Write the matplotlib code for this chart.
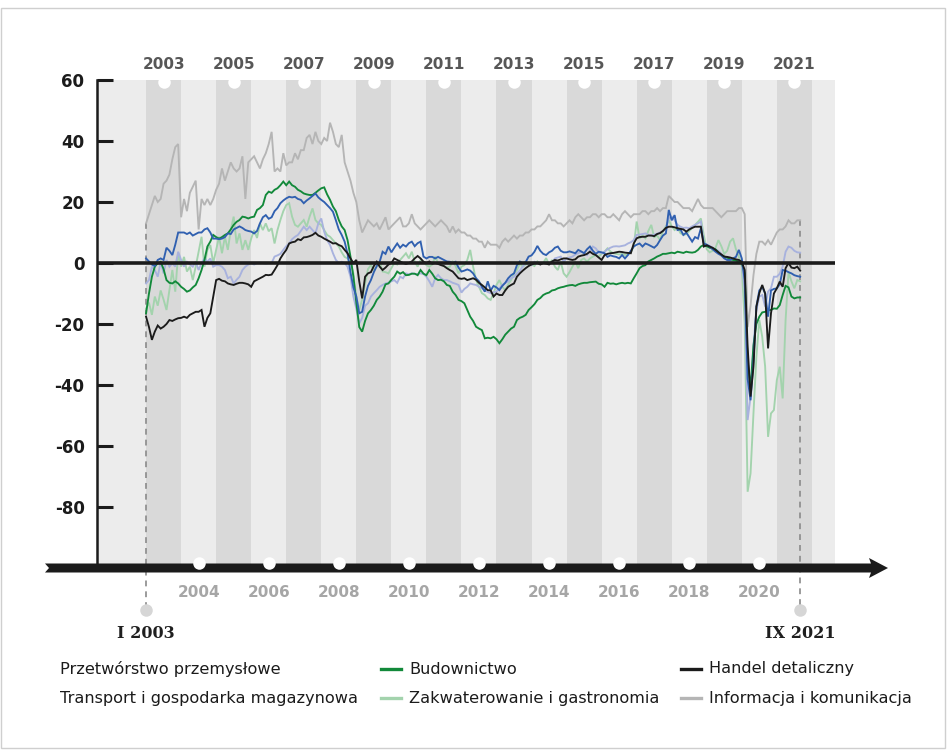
import numpy as np
import matplotlib
matplotlib.use("Agg")
import matplotlib.pyplot as plt
from matplotlib.patches import Polygon, Rectangle
from matplotlib.lines import Line2D

# monthly values, I 2003 - IX 2021 (one row per year)
przetworstwo = [
    1.5, 0.5, -0.5, -1, 1, 1.5, 1, 5, 4, 2.6, 6, 10,
    10, 10, 9.5, 10, 9, 9.5, 10, 10, 11, 11.4, 10, 8,
    8, 7.8, 8, 8.5, 9.7, 9.5, 11, 11.5, 12, 11.5, 10.8, 10.5,
    10.3, 9.7, 10.5, 13, 15, 15.7, 14.5, 15, 17, 18, 19.6, 20.5,
    21.2, 21.7, 21.5, 21.7, 21, 20.7, 19.6, 20.5, 21.2, 22, 22.8, 21.5,
    20.7, 20, 19, 18, 16.8, 14, 11, 9.2, 7, 3, -3, -8,
    -11, -16.5, -16, -11, -7.5, -5.6, -3, -1, 0.4, 3.7, 3, 5.4,
    3.5, 5, 6.4, 5, 6, 5.4, 6.5, 7, 5.5, 6.5, 7, 2.1,
    1.5, 2, 2, 1.5, 2, 1.5, 1, 0.5, 0.4, 0, 0.4, -1.5,
    -2.8, -2.5, -2.1, -2.5, -3.4, -5, -6, -7.8, -9.4, -6, -9, -7.5,
    -8, -8.9, -7.5, -6.5, -5, -4, -3.4, -0.7, 0.5, 0, 0.3, 2.1,
    2.5, 3.7, 5.6, 4, 3, 2.6, 3.5, 4, 5, 5.4, 4, 3.5,
    3.5, 3.8, 3.5, 3.2, 4.3, 3.8, 3.2, 4.5, 5.4, 4, 3, 3.7,
    3.5, 3.2, 2, 2.5, 2.2, 2, 1.5, 2.6, 1.5, 2.6, 4, 5.4,
    6, 6.4, 5.4, 6.4, 6, 5.5, 5, 5.9, 7.5, 9, 9.7, 17.4,
    14, 15.7, 10.8, 11, 9.2, 10, 8.5, 7, 8.5, 8, 11.4, 6.4,
    6, 5.4, 4.5, 3.7, 3, 2.5, 1.5, 1, 1, 1.5, 2, 4.3,
    1.5, -5.6, -38, -45, -32, -14.3, -9, -7.8, -10, -17.6, -9, -8.5,
    -8.3, -7, -2.3, -2.5, -3, -3.4, -4, -4.3, -4.5,
]

transport = [
    -6.7, -5.6, -1.2, -2.3, -4.5, 0.4, -3.4, 1, -1.2, -0.1, -1.2, 3.7,
    1, -1.2, 0.4, -0.5, -1.2, 0.4, -2.3, 0, 1.5, 0.4, 1.5, -1.2,
    -0.7, -0.7, -1.2, -2.3, -5, -4.5, -6.7, -5.5, -4.5, -2.3, -1.2, -0.5,
    0, -0.5, 0, 0.1, 0, -0.2, 0, 0, 2.1, 2.5, 3, 4.3,
    5.5, 6.4, 7.8, 8.6, 9.2, 10.5, 11.9, 10.8, 11.9, 10.8, 9.7, 13,
    14.6, 10.3, 7.5, 5.9, 3.2, 1, 0, 0.4, 0, -1.2, -4.5, -11,
    -15, -19.8, -18, -14, -13.2, -11, -9.9, -8.9, -7.8, -7.2, -6.7, -6.5,
    -6, -5.6, -6.5, -4.5, -5, -3.4, -3.7, -3.4, -3.6, -3.6, -3.4, -3.6,
    -4.5, -6, -7.8, -5, -3.9, -5, -5.6, -5.6, -6, -6.5, -6.8, -7.2,
    -9.7, -8.5, -7.8, -6.7, -7, -7.2, -7.8, -8.3, -8.9, -9.5, -9.9, -9.6,
    -9.4, -8.3, -7.2, -6.5, -6.1, -5, -4.5, -3.4, -2.5, -1.2, 0, -0.3,
    -0.7, 0.4, 0, -0.2, 0, 0.2, 0, -0.1, 1.5, 1.8, 2.1, 0.4,
    1.5, 1.8, 2.1, 2.8, 3.2, 3.7, 3.3, 2.6, 4, 5.4, 4.8, 3.5,
    3.2, 3.7, 4.5, 5, 5.4, 5.5, 5.4, 5.6, 5.8, 6.4, 6.8, 7.5,
    9.2, 9.3, 9.5, 9.7, 9.2, 9, 9.3, 9.6, 10, 10.5, 11.4, 14.6,
    15.2, 14, 12.5, 11.9, 11.5, 11.6, 11.4, 12, 12.5, 13, 13.6, 6.4,
    6, 5.6, 5, 4.3, 4, 3, 2, 1, 0.5, 0.5, 1, 0.8,
    -0.1, -8.9, -51.5, -43.8, -27.4, -15.4, -11, -10.5, -14.3, -9.4, -8.3, -4.5,
    -4.5, -3.5, -1.2, 3.7, 5.4, 5, 4, 3.5, 3.4,
]

budownictwo = [
    -16.5, -10, -4.5, -1.2, 0, 0.4, -2, -5.6, -6.5, -6.7, -6, -6.7,
    -7.8, -8.5, -9.4, -9, -8, -7.2, -5, -2.3, 1, 5.4, 7, 9.2,
    8.5, 8, 8.5, 9.2, 9.7, 11, 12.5, 13.5, 14.1, 15.2, 15, 14.6,
    15, 15.2, 17.4, 18, 19, 22.3, 23.4, 23, 24, 24.5, 25.5, 26.7,
    25.5, 26.7, 25.5, 25, 24, 23.5, 22.8, 22.5, 22.3, 22.3, 23, 23.8,
    24.5, 24.8, 22.5, 20.7, 18.5, 17, 14.1, 12, 10.8, 7.5, 2.1, -4.5,
    -13, -21, -22.5, -19, -16.5, -15.4, -14, -12.1, -11, -9.4, -7, -6.7,
    -5.5, -4.5, -2.8, -3.5, -3, -4, -3.9, -3.5, -3.5, -4, -2.3, -3.5,
    -4, -2.3, -3.5, -5, -5.6, -5.5, -6, -7.2, -7.5, -9.4, -10.5, -12.1,
    -12.5, -13.2, -15.4, -17.6, -19, -20.9, -21.5, -22, -24.7, -24.5, -24.7, -24.2,
    -25, -26.3, -25, -23.5, -22.5, -21.5, -20.9, -18.7, -18, -17.6, -17, -15.4,
    -14.5, -13.5, -12.1, -11.5, -10.5, -10, -9.7, -9, -8.8, -8.3, -8, -7.8,
    -7.5, -7.3, -7.2, -7.5, -7, -6.7, -6.5, -6.5, -6.3, -6.2, -6.1, -6.8,
    -7, -7.8, -6.5, -6.8, -6.7, -7, -6.7, -6.5, -6.7, -6.5, -6.7, -5,
    -3.4, -1.7, -1, -0.7, 0.5, 1, 1.5, 2.1, 2.5, 3, 3, 3.2,
    3.4, 3.2, 3.7, 3.5, 3.3, 3.7, 3.5, 3.4, 3.6, 4.3, 5.4, 5.9,
    5.5, 5, 4.8, 4.5, 3.5, 2.5, 2.1, 1.8, 1.2, 1, 0.8, 0.4,
    0, -3.4, -32, -41, -27, -20, -17.6, -16.2, -16, -15.5, -15.4, -14.9,
    -15, -13.8, -10.5, -7.5, -8, -11, -11.6, -11.3, -11.3,
]

zakwaterowanie = [
    -15, -13, -17, -11, -14, -9, -12, -15.4, -8.9, -2.3, -9.4, 3.2,
    -1.2, 2, -2.8, -1.2, -5.6, -1.2, 3.7, 8.6, -1.2, 4.3, 5.9, 0,
    4.3, 8.6, 3.2, 8.6, 4.3, 10.8, 15.2, 6.4, 9.7, 4.3, 7.5, 4.3,
    8, 10.8, 8.2, 13, 10.8, 13, 10.4, 11.4, 6.4, 10.8, 14.1, 17,
    19, 19.6, 15.2, 12.5, 11.9, 13, 14.1, 11.9, 15.2, 17.9, 14.1, 13,
    12.5, 10.8, 9.2, 8.6, 7.5, 6.4, 5.4, 3.5, 2, 1.5, 0, -3.4,
    -11, -15.4, -12, -6.7, -2, -0.7, -2.3, -1.2, 0.4, -2.8, -3, -3.4,
    -1.7, 0, -0.5, 1, 2.1, 3.2, 1.5, 3.7, 0.4, -1.2, 1, 0.5,
    -0.7, -1.2, -0.5, 2.1, 0, -0.5, -1, -1.5, -1.2, 0.4, -1, -3.4,
    -1.2, -0.7, 1, 4.3, -1.2, -5.6, -7.8, -9.9, -10.5, -11.6, -12.1, -9.9,
    -7.2, -5.6, -7.8, -8.9, -7, -5.6, -3.4, -2.3, -0.1, -1.2, -0.5, 0,
    -0.5, -1, 0.5, -0.3, 0, 1.6, -0.5, 1, -1.2, -2.3, 0.4, -3.4,
    -4.5, -3, -1.2, 0.4, -1.7, 1, 1.5, 0.4, 1.5, 2.1, 2.6, 2.1,
    3, 3.7, 4.8, 3.8, 3.2, 3, 2.8, 3, 2.6, 2.9, 3.5, 5.4,
    13.6, 8, 9, 8.1, 10.5, 12.5, 8.5, 9, 7.5, 10.5, 12, 14.1,
    12, 10.8, 11.5, 9.8, 9.2, 9.5, 10.5, 11.5, 12.5, 13.5, 14.6, 9,
    4.5, 3.5, 4, 5, 7.5, 5.5, 3, 4, 7, 8.1, 4.5, 2,
    -1.2, -20, -75, -69, -49.3, -30.7, -18.7, -24.2, -34, -57, -49.3, -48.2,
    -38.4, -34, -44.4, -18.7, -3, -6, -8.3, -5.6, -6,
]

handel = [
    -17.6, -21, -25.2, -22.5, -20.5, -21.5, -20.9, -20, -18.7, -19, -18.5, -18.1,
    -18, -17.6, -18, -17, -16.5, -16, -16, -15.4, -20.9, -18, -16.5, -11,
    -5.6, -5.2, -5.8, -6, -6.7, -7, -7.2, -6.8, -6.5, -6.5, -6.7, -7,
    -7.8, -6, -5.5, -5, -4.5, -3.9, -4, -3.8, -2.3, -0.7, 1.5, 3,
    4.3, 6.4, 6.8, 7, 7.8, 7.5, 8.4, 8.5, 8.8, 9.2, 9.9, 9,
    8.6, 8, 7.5, 7, 6.4, 6.5, 5.9, 5.5, 4.3, 3.2, 1.5, 0,
    1, -6, -11.6, -4.5, -3.4, -3, -1, 0.4, -1.2, -2.3, -1.5, -0.5,
    0, 1.5, 1, 0.5, 0, -0.3, 0, 0.5, 1.5, 2.3, 1.5, 0.4,
    0, 0.5, -0.2, 0, -0.3, -0.7, -1, -1.7, -2.3, -2.8, -3.9, -5,
    -5.2, -5, -5.6, -5.3, -5, -5.5, -6.5, -7.2, -8, -8.9, -9, -11,
    -10, -10.5, -10.5, -9, -7.8, -7.2, -6.7, -4.5, -3.4, -2.5, -1.7, -1,
    -0.5, -0.1, 0, -0.5, 0, -0.2, -0.5, 0.5, 1, 0.8, 1.2, 1.5,
    1.5, 1.2, 1, 1.2, 2.1, 2.4, 2.6, 3, 3.7, 3, 2.6, 1.8,
    1, 2.6, 3, 3.2, 3.3, 3.5, 3.7, 3.6, 3.4, 3.3, 3.2, 6.4,
    8.1, 8.5, 8.6, 8.6, 9, 9, 8.8, 9.5, 9.8, 10.5, 11.5, 11.9,
    11.9, 11.7, 11.4, 11.2, 11, 10.3, 11, 11.5, 11.9, 11.9, 11.9, 5.4,
    5.8, 5.4, 5, 4.3, 3.5, 2.8, 2.1, 2, 1.8, 1.5, 1.2, 1,
    0.4, -2.3, -27.4, -43.8, -34, -14.3, -9.9, -7.2, -10, -28, -16.5, -10,
    -8.3, -6.1, -7.8, -1.7, 0, -1.5, -1.7, -1.2, -2.5,
]

informacja = [
    13, 16, 19, 22, 20, 21, 26, 27, 29, 34, 38, 39,
    15, 21, 17, 23, 25, 27, 11, 21, 19, 21, 19, 21,
    24, 26, 31, 27, 30, 33, 31, 30, 31, 35, 21, 33,
    34, 35, 33, 31, 34, 36, 39, 43, 30, 31, 30, 36,
    32, 33, 33, 36, 34, 37, 37, 41, 42, 39, 43, 40,
    39, 41, 40, 46, 43, 39, 38, 42, 33, 30, 27, 23,
    20, 14, 10, 12, 14, 13, 12, 13, 11, 13, 15, 11,
    12, 13, 14, 15, 12, 12, 13, 16, 13, 12, 11, 12,
    13, 14, 13, 12, 13, 14, 13, 12, 10, 12, 10, 11,
    10, 10, 9, 9, 8, 8, 7, 7, 5, 7, 6, 6,
    6, 5, 7, 8, 7, 8, 9, 8, 9, 9, 10, 10,
    11, 11, 12, 12, 13, 14, 16, 14, 14, 13, 13, 12,
    13, 14, 13, 15, 16, 15, 14, 15, 15, 16, 16, 15,
    16, 16, 15, 15, 16, 15, 14, 16, 17, 16, 15, 16,
    16, 16, 17, 17, 16, 17, 17, 18, 17, 18, 18, 22,
    21, 20, 20, 19, 18, 18, 18, 17, 19, 21, 19, 18,
    18, 18, 18, 17, 16, 15, 16, 17, 17, 17, 17, 18,
    18, 16, -21, -14, -4, 3, 7, 7, 6, 7.5, 6, 8,
    10, 11, 11, 12, 14, 13, 13, 14, 14,
]

labels = ["Przetwórstwo przemysłowe", "Transport i gospodarka magazynowa",
          "Budownictwo", "Zakwaterowanie i gastronomia",
          "Handel detaliczny", "Informacja i komunikacja"]
top_years = list(range(2003, 2022, 2))
bottom_years = list(range(2004, 2021, 2))
y_ticks = [60, 40, 20, 0, -20, -40, -60, -80]

colors = {
    "Przetwórstwo przemysłowe": "#3060b0",
    "Transport i gospodarka magazynowa": "#a8b2de",
    "Budownictwo": "#12893a",
    "Zakwaterowanie i gastronomia": "#a3d3ad",
    "Handel detaliczny": "#1b1b1b",
    "Informacja i komunikacja": "#b5b5b5",
}
values = dict(zip(labels, [przetworstwo, transport, budownictwo,
                           zakwaterowanie, handel, informacja]))

W, H = 948, 750
fig = plt.figure(figsize=(W / 100, H / 100), dpi=100)


def fx(px):
    return px / W


def fy(py):
    return 1 - py / H


ax = fig.add_axes([fx(97), fy(568), fx(835) - fx(97), fy(80) - fy(568)])
ax.set_facecolor("#ececec")
x0, x1 = 2001.60, 2022.66
ax.set_xlim(x0, x1)
ax.set_ylim(-100, 60)

# year bands
for yr in top_years:
    ax.axvspan(yr, yr + 1, color="#d9d9d9", lw=0, zorder=0)

n = len(informacja)
t = 2003 + np.arange(n) / 12.0

draw_order = ["Informacja i komunikacja", "Zakwaterowanie i gastronomia",
              "Transport i gospodarka magazynowa", "Budownictwo",
              "Przetwórstwo przemysłowe", "Handel detaliczny"]
for name in draw_order:
    ax.plot(t, values[name], color=colors[name], lw=1.35, zorder=3,
            solid_joinstyle="miter")

ax.axhline(0, color="#1b1b1b", lw=2.6, zorder=4)

# dashed markers of first and last month
y_dot = -113.8
for tx, top in [(t[0], informacja[0]), (t[-1], informacja[-1])]:
    ax.plot([tx, tx], [top, y_dot], ls=(0, (3.5, 3)), color="#8a8a8a",
            lw=1.2, clip_on=False, zorder=2)
    ax.plot(tx, y_dot, "o", ms=9, color="#d6d6d6", mec="none", clip_on=False)
ax.text(t[0], -118.6, "I 2003", ha="center", va="top", fontsize=11.5,
        fontweight="bold", family="DejaVu Serif", color="#1f1f1f")
ax.text(t[-1], -118.6, "IX 2021", ha="center", va="top", fontsize=11.5,
        fontweight="bold", family="DejaVu Serif", color="#1f1f1f")

# axis styling
for s in ["top", "right", "bottom"]:
    ax.spines[s].set_visible(False)
ax.spines["left"].set_linewidth(1.8)
ax.spines["left"].set_color("#1b1b1b")
ax.set_xticks([])
ax.set_yticks(y_ticks)
ax.set_yticklabels([str(v) for v in y_ticks])
ax.tick_params(axis="y", direction="in", length=11.5, width=2.2,
               color="#1b1b1b", pad=9, labelsize=12)
for lab in ax.get_yticklabels():
    lab.set_fontweight("bold")
    lab.set_color("#1b1b1b")

# year labels and white dots
for yr in top_years:
    ax.plot(yr + 0.5, 59.2, "o", ms=9, color="white", mec="none",
            clip_on=False, zorder=5)
    ax.text(yr + 0.5, 62.5, str(yr), ha="center", va="bottom", fontsize=11,
            fontweight="bold", color="#575757")

# bottom arrow
arrow = Polygon([(fx(45), fy(563.5)), (fx(871), fy(563.5)), (fx(869), fy(558)),
                 (fx(888), fy(568)), (fx(869), fy(578)), (fx(871), fy(572.5)),
                 (fx(45), fy(572.5)), (fx(49), fy(568))],
                closed=True, facecolor="#1b1b1b", edgecolor="none",
                transform=fig.transFigure, clip_on=False, zorder=6)
ax.add_patch(arrow)
for yr in bottom_years:
    ax.plot(yr + 0.5, -98.3, "o", ms=9, color="white", mec="none",
            clip_on=False, zorder=7)
    ax.text(yr + 0.5, -105.5, str(yr), ha="center", va="top", fontsize=11,
            fontweight="bold", color="#a6a6a6")

ax.set_xlim(x0, x1)
ax.set_ylim(-100, 60)

# legend (first column has no line handles, as in the original)
leg_font = dict(fontsize=11.6, color="#1b1b1b", va="center")
rows = [669, 698]
fig.text(fx(60), fy(rows[0]), labels[0], **leg_font)
fig.text(fx(60), fy(rows[1]), labels[1], **leg_font)
for col_x, pair in [(381, labels[2:4]), (681, labels[4:6])]:
    for ry, name in zip(rows, pair):
        fig.add_artist(Line2D([fx(col_x), fx(col_x + 20)], [fy(ry), fy(ry)],
                              color=colors[name], lw=2.4,
                              transform=fig.transFigure))
        fig.text(fx(col_x + 28), fy(ry), name, **leg_font)

# outer frame
fig.add_artist(Rectangle((fx(1), fy(748)), fx(945) - fx(1), fy(8) - fy(748),
                         fill=False, edgecolor="#cfcfcf", lw=1,
                         transform=fig.transFigure))

fig.savefig("out.png", dpi=100, facecolor="white")
